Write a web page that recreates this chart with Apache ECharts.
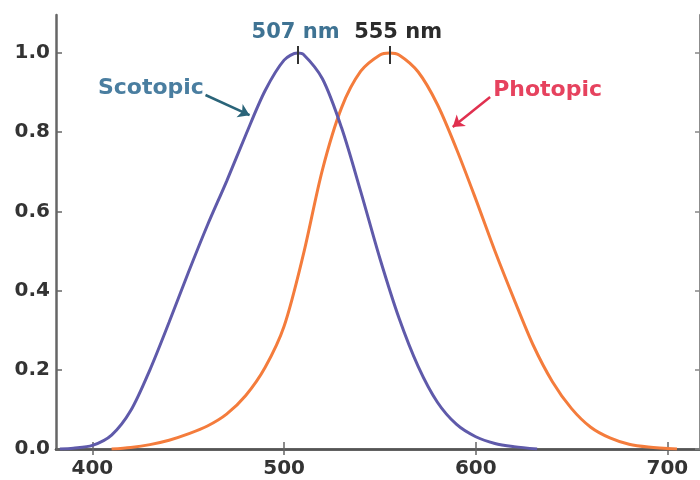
<!DOCTYPE html>
<html>
<head>
<meta charset="utf-8">
<script src="https://cdn.jsdelivr.net/npm/echarts@6/dist/echarts.min.js"></script>
<style>
  html, body { margin: 0; padding: 0; background: #fff; }
  #chart { width: 700px; height: 480px; }
</style>
</head>
<body>
<div id="chart"></div>
<script>
// luminous efficiency
const scotopicNm = [383, 390, 400, 410, 420, 430, 440, 450, 460, 470, 480, 490, 500, 507, 510, 520, 530, 540, 550, 560, 570, 580, 590, 600, 610, 620, 632];
const scotopicV = [0.0, 0.002, 0.009, 0.035, 0.097, 0.2, 0.32, 0.445, 0.565, 0.676, 0.793, 0.904, 0.982, 1.0, 0.997, 0.935, 0.811, 0.65, 0.481, 0.33, 0.208, 0.118, 0.062, 0.031, 0.014, 0.006, 0.0];

const photopicNm = [410, 420, 430, 440, 450, 460, 470, 480, 490, 500, 510, 520, 530, 540, 550, 555, 560, 570, 580, 590, 600, 610, 620, 630, 640, 650, 660, 670, 680, 690, 705];
const photopicV = [0.0, 0.004, 0.011, 0.022, 0.038, 0.058, 0.088, 0.135, 0.205, 0.31, 0.49, 0.705, 0.862, 0.954, 0.995, 1.0, 0.995, 0.952, 0.87, 0.757, 0.631, 0.5, 0.378, 0.262, 0.17, 0.102, 0.055, 0.028, 0.012, 0.005, 0.0];

const xTicks = [400, 500, 600, 700];
const yTicks = [0, 0.2, 0.4, 0.6, 0.8, 1.0];

const chart = echarts.init(document.getElementById('chart'));

function zip(xs, ys) {
  return xs.map((x, i) => [x, ys[i]]);
}

function note(text, color, size) {
  return { show: true, position: 'inside', formatter: text, fontFamily: 'DejaVu Sans', fontWeight: 'bold', fontSize: size, color: color };
}

const axisColor = '#666';
const labelFont = { fontFamily: 'DejaVu Sans', fontWeight: 'bold', fontSize: 20, color: '#333' };

const option = {
  animation: false,
  grid: { left: 56, right: -1, top: 15, bottom: 31 },
  xAxis: [
    {
      type: 'value', min: 381, max: 717,
      axisLine: { lineStyle: { color: axisColor, width: 2.5 } },
      axisTick: { inside: true, length: 7, customValues: xTicks, lineStyle: { color: axisColor, width: 1.5 } },
      axisLabel: Object.assign({ customValues: xTicks, margin: 10 }, labelFont),
      splitLine: { show: false }
    },
    {
      type: 'value', position: 'top', min: 381, max: 717,
      axisLine: { lineStyle: { color: '#555', width: 2.5 } },
      axisTick: { inside: true, length: 6, customValues: xTicks, lineStyle: { color: axisColor, width: 1.5 } },
      axisLabel: { show: false },
      splitLine: { show: false }
    }
  ],
  yAxis: [
    {
      type: 'value', min: 0, max: 1.096,
      axisLine: { show: true, lineStyle: { color: axisColor, width: 2.5 } },
      axisTick: { show: true, inside: true, length: 6, customValues: yTicks, lineStyle: { color: axisColor, width: 1.5 } },
      axisLabel: Object.assign({ customValues: yTicks, margin: 6, formatter: v => v.toFixed(1) }, labelFont),
      splitLine: { show: false }
    },
    {
      type: 'value', position: 'right', min: 0, max: 1.096,
      axisLine: { show: true, lineStyle: { color: axisColor, width: 2.5 } },
      axisTick: { show: true, inside: true, length: 5, customValues: yTicks, lineStyle: { color: '#888', width: 1.5 } },
      axisLabel: { show: false },
      splitLine: { show: false }
    }
  ],
  series: [
    {
      name: 'Photopic',
      type: 'line',
      data: zip(photopicNm, photopicV),
      smooth: 0.3,
      showSymbol: false,
      lineStyle: { color: '#f47c3c', width: 3 },
      z: 2,
      markLine: {
        silent: true,
        animation: false,
        label: { show: false },
        lineStyle: { type: 'solid' },
        data: [
          [{ coord: [555, 0.972], symbol: 'none', lineStyle: { type: 'solid', color: '#333', width: 2 } }, { coord: [555, 1.018], symbol: 'none' }],
          [{ coord: [607.5, 0.889], symbol: 'none', lineStyle: { type: 'solid', color: '#e0304f', width: 2.5 } }, { coord: [588, 0.813], symbol: 'arrow', symbolSize: 11 }]
        ]
      },
      markPoint: {
        silent: true,
        symbol: 'circle',
        symbolSize: 0,
        data: [
          { coord: [559.5, 1.052], label: note('555 nm', '#2b2b2b', 21) },
          { coord: [637.5, 0.906], label: note('Photopic', '#e6425e', 22) }
        ]
      }
    },
    {
      name: 'Scotopic',
      type: 'line',
      data: zip(scotopicNm, scotopicV),
      smooth: 0.3,
      showSymbol: false,
      lineStyle: { color: '#5f5aaa', width: 3 },
      z: 3,
      markLine: {
        silent: true,
        animation: false,
        label: { show: false },
        lineStyle: { type: 'solid' },
        data: [
          [{ coord: [507, 0.972], symbol: 'none', lineStyle: { type: 'solid', color: '#333', width: 2 } }, { coord: [507, 1.018], symbol: 'none' }],
          [{ coord: [459, 0.894], symbol: 'none', lineStyle: { type: 'solid', color: '#2a6479', width: 2.5 } }, { coord: [482, 0.843], symbol: 'arrow', symbolSize: 11 }]
        ]
      },
      markPoint: {
        silent: true,
        symbol: 'circle',
        symbolSize: 0,
        data: [
          { coord: [506, 1.052], label: note('507 nm', '#3f7393', 21) },
          { coord: [430.5, 0.911], label: note('Scotopic', '#4a7ea0', 22) }
        ]
      }
    }
  ]
};

chart.setOption(option);
</script>
</body>
</html>
